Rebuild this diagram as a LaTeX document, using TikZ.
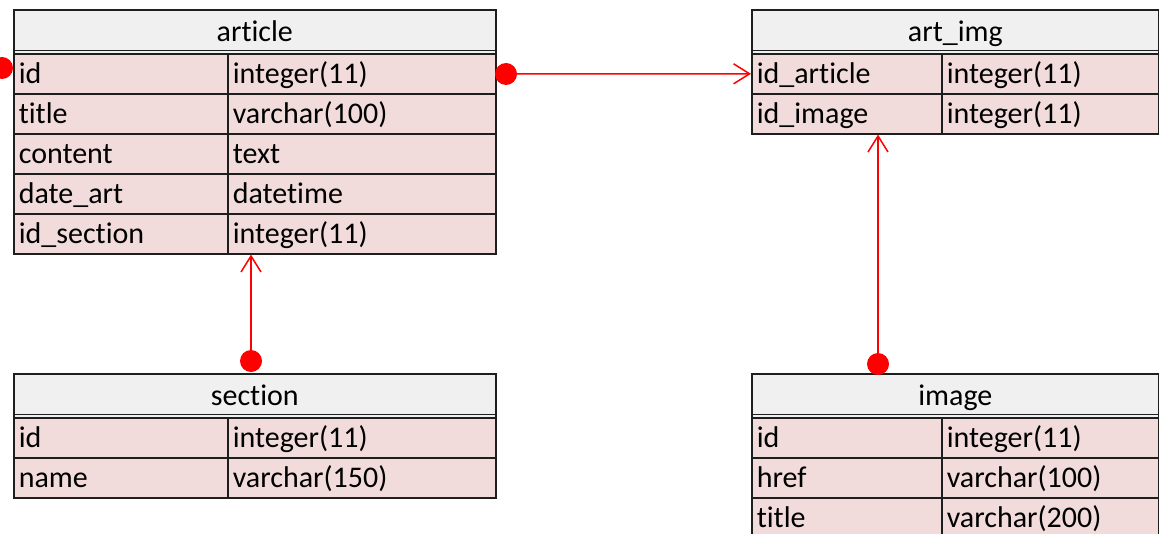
\documentclass[tikz,border=0pt]{standalone}
\usepackage{fontspec}
\setmainfont{Carlito}[Ligatures={NoCommon,NoRare,NoDiscretionary}]
\usetikzlibrary{arrows.meta}
\definecolor{headgray}{HTML}{F0F0F0}
\definecolor{rowpink}{HTML}{F2DCDB}
\definecolor{edge}{HTML}{1E1E1E}

\begin{document}
\begin{tikzpicture}[x=0.5pt, y=-0.5pt,
        nodes={font=\fontsize{15pt}{18pt}\selectfont, inner xsep=2.5pt, inner ysep=0pt,
               text height=12pt, text depth=2pt},
        head/.style={draw=edge, line width=0.8pt, fill=headgray, anchor=north west,
                     minimum height=22pt, text width=#1, align=center},
        cell/.style={draw=edge, line width=0.8pt, fill=rowpink, anchor=north west,
                     minimum height=20pt, text width=#1, align=left},
        dot/.style={circle, fill=red, inner sep=0pt, minimum size=11pt,
                    text height=0pt, text depth=0pt},
        link/.style={draw=red, line width=0.75pt, -{Straight Barb[length=8pt, width=10pt]}}]
        \clip (0,0) rectangle (1159,534);
        \fill[white] (0,0) rectangle (1159,534);
        % article
        \node[head=236pt] (article) at (13,9) {article};
        \draw[edge, line width=0.8pt] ([yshift=2pt]article.south west) -- ([yshift=2pt]article.south east);
        \node[cell=102pt] (article-id) at (13,53) {id};
        \node[cell=129pt] (article-id-t) at (227,53) {integer(11)};
        \node[cell=102pt] (article-title) at (13,93) {title};
        \node[cell=129pt] (article-title-t) at (227,93) {varchar(100)};
        \node[cell=102pt] (article-content) at (13,133) {content};
        \node[cell=129pt] (article-content-t) at (227,133) {text};
        \node[cell=102pt] (article-date) at (13,173) {date\_art};
        \node[cell=129pt] (article-date-t) at (227,173) {datetime};
        \node[cell=102pt] (article-section) at (13,213) {id\_section};
        \node[cell=129pt] (article-section-t) at (227,213) {integer(11)};
        % art_img
        \node[head=198.5pt] (artimg) at (751,9) {art\_img};
        \draw[edge, line width=0.8pt] ([yshift=2pt]artimg.south west) -- ([yshift=2pt]artimg.south east);
        \node[cell=90pt] (artimg-article) at (751,53) {id\_article};
        \node[cell=103.5pt] (artimg-article-t) at (941,53) {integer(11)};
        \node[cell=90pt] (artimg-image) at (751,93) {id\_image};
        \node[cell=103.5pt] (artimg-image-t) at (941,93) {integer(11)};
        % section
        \node[head=236pt] (section) at (13,373) {section};
        \draw[edge, line width=0.8pt] ([yshift=2pt]section.south west) -- ([yshift=2pt]section.south east);
        \node[cell=102pt] (section-id) at (13,417) {id};
        \node[cell=129pt] (section-id-t) at (227,417) {integer(11)};
        \node[cell=102pt] (section-name) at (13,457) {name};
        \node[cell=129pt] (section-name-t) at (227,457) {varchar(150)};
        % image
        \node[head=198.5pt] (image) at (751,373) {image};
        \draw[edge, line width=0.8pt] ([yshift=2pt]image.south west) -- ([yshift=2pt]image.south east);
        \node[cell=90pt] (image-id) at (751,417) {id};
        \node[cell=103.5pt] (image-id-t) at (941,417) {integer(11)};
        \node[cell=90pt] (image-href) at (751,457) {href};
        \node[cell=103.5pt] (image-href-t) at (941,457) {varchar(100)};
        \node[cell=90pt] (image-title) at (751,497) {title};
        \node[cell=103.5pt] (image-title-t) at (941,497) {varchar(200)};
        % links
        \node[dot] (d0) at (2,68) {};
        \node[dot] (d1) at (506,74) {};
        \node[dot] (d2) at (251,361) {};
        \node[dot] (d3) at (878,364) {};
        \draw[link] (d1.center) -- (artimg-article.west);
        \draw[link] (d2.center) -- (d2 |- article-section.south);
        \draw[link] (d3.center) -- (d3 |- artimg-image.south);
\end{tikzpicture}
\end{document}
